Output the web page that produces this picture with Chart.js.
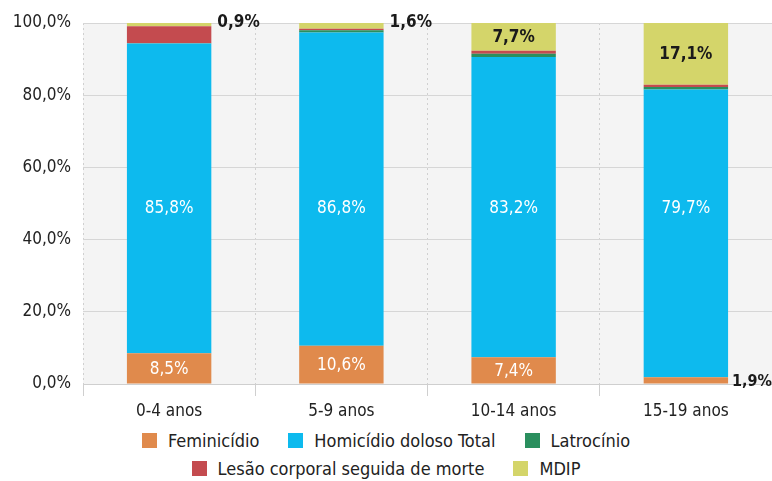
<!DOCTYPE html>
<html lang="pt">
<head>
<meta charset="UTF-8" />
<title>Vítimas por faixa etária</title>
<script src="https://cdn.jsdelivr.net/npm/chart.js@4"></script>
<style>
  html, body { margin: 0; padding: 0; background: #fff; }
  body { width: 772px; height: 481px; overflow: hidden;
         font-family: 'Liberation Sans Narrow', 'DejaVu Sans Condensed', 'Roboto', sans-serif; }
  #wrap { position: relative; width: 772px; height: 420px; }
  #legend { width: 772px; color: #222; font-size: 18px; padding-top: 6px; }
  .row { display: flex; justify-content: center; gap: 29px; height: 28px; align-items: center; }
  .item { display: flex; align-items: center; }
  .box { width: 15px; height: 15px; margin-right: 11px; }
</style>
</head>
<body>
<div id="wrap"><canvas id="myChart" width="772" height="420"></canvas></div>
<div id="legend"></div>

<script>
  // faixas etárias
  var faixas = ['0-4 anos', '5-9 anos', '10-14 anos', '15-19 anos'];

  // percentuais por tipo de crime (ordem de empilhamento, de baixo para cima)
  var feminicidio = [8.5, 10.6, 7.4, 1.9];
  var homicidio   = [85.8, 86.8, 83.2, 79.7];
  var latrocinio  = [0.1, 0.6, 0.9, 0.7];
  var lesao       = [4.7, 0.4, 0.8, 0.6];
  var mdip        = [0.9, 1.6, 7.7, 17.1];

  var yTicks = [0, 20, 40, 60, 80, 100];

  var fonte = "'Liberation Sans Narrow', 'DejaVu Sans Condensed', 'Roboto', sans-serif";
  function fmt(v) { return v.toFixed(1).replace('.', ',') + '%'; }

  // fundo cinza da área do gráfico
  const fundo = {
    id: 'fundo',
    beforeDraw(chart) {
      const a = chart.chartArea, ctx = chart.ctx;
      ctx.save();
      ctx.fillStyle = '#f4f4f4';
      ctx.fillRect(a.left, a.top, a.right - a.left, a.bottom - a.top);
      ctx.restore();
    }
  };

  // rótulos de valor
  const rotulos = {
    id: 'rotulos',
    afterDatasetsDraw(chart) {
      const ctx = chart.ctx;
      const y = chart.scales.y;
      ctx.save();
      ctx.textBaseline = 'middle';

      // Feminicídio
      chart.getDatasetMeta(0).data.forEach(function (bar, i) {
        const v = feminicidio[i];
        if (v > 3) {
          ctx.font = '17px ' + fonte;
          ctx.fillStyle = '#ffffff';
          ctx.textAlign = 'center';
          ctx.fillText(fmt(v), bar.x, (bar.y + bar.base) / 2 + 1);
        } else {
          ctx.font = 'bold 16px ' + fonte;
          ctx.fillStyle = '#1a1a1a';
          ctx.textAlign = 'left';
          ctx.fillText(fmt(v), bar.x + bar.width / 2 + 4, bar.base - 2);
        }
      });

      // Homicídio: todos na mesma altura
      chart.getDatasetMeta(1).data.forEach(function (bar, i) {
        ctx.font = '17px ' + fonte;
        ctx.fillStyle = '#ffffff';
        ctx.textAlign = 'center';
        ctx.fillText(fmt(homicidio[i]), bar.x, y.getPixelForValue(48.5));
      });

      // MDIP
      chart.getDatasetMeta(4).data.forEach(function (bar, i) {
        const v = mdip[i];
        ctx.font = 'bold 17px ' + fonte;
        ctx.fillStyle = '#1a1a1a';
        if (v > 5) {
          ctx.textAlign = 'center';
          ctx.fillText(fmt(v), bar.x, (bar.y + bar.base) / 2 + 1);
        } else {
          ctx.textAlign = 'left';
          ctx.fillText(fmt(v), bar.x + bar.width / 2 + 6, bar.y);
        }
      });
      ctx.restore();
    }
  };

  const series = [
    { label: 'Feminicídio', data: feminicidio, backgroundColor: '#e08a4c' },
    { label: 'Homicídio doloso Total', data: homicidio, backgroundColor: '#0dbaee' },
    { label: 'Latrocínio', data: latrocinio, backgroundColor: '#2a8f5e' },
    { label: 'Lesão corporal seguida de morte', data: lesao, backgroundColor: '#c44b4f' },
    { label: 'MDIP', data: mdip, backgroundColor: '#d4d56a' }
  ];

  const ctx = document.getElementById('myChart').getContext('2d');
  const myChart = new Chart(ctx, {
    type: 'bar',
    data: {
      labels: faixas,
      datasets: series.map(function (s) {
        return Object.assign({ barPercentage: 0.49, categoryPercentage: 1, borderWidth: 0 }, s);
      })
    },
    options: {
      responsive: false,
      animation: false,
      layout: { padding: { top: 23, right: 0, left: 0, bottom: 0 } },
      plugins: { legend: { display: false }, tooltip: { enabled: false } },
      scales: {
        x: {
          stacked: true,
          offset: true,
          border: { display: true, color: '#cfcfcf', width: 1, dash: [2, 3] },
          grid: {
            offset: true,
            color: '#d0d0d0',
            tickBorderDash: [],
            tickColor: '#cfcfcf',
            tickLength: 12,
            drawTicks: true
          },
          ticks: { color: '#222', font: { family: fonte, size: 17 }, padding: 5 },
          afterFit: function (s) { s.height = 36; }
        },
        y: {
          stacked: true,
          min: 0,
          max: 100,
          border: { display: false },
          grid: { color: '#d6d6d6', drawTicks: false },
          afterBuildTicks: function (s) { s.ticks = yTicks.map(function (v) { return { value: v }; }); },
          ticks: {
            color: '#222',
            font: { family: fonte, size: 17 },
            padding: 12,
            callback: function (v) { return fmt(v); }
          },
          afterFit: function (s) { s.width = 83; }
        }
      }
    },
    plugins: [fundo, rotulos]
  });

  // legenda em duas linhas
  var linhas = [[0, 1, 2], [3, 4]];
  var leg = document.getElementById('legend');
  linhas.forEach(function (l) {
    var row = document.createElement('div');
    row.className = 'row';
    l.forEach(function (k) {
      var it = document.createElement('div');
      it.className = 'item';
      var b = document.createElement('span');
      b.className = 'box';
      b.style.background = series[k].backgroundColor;
      it.appendChild(b);
      it.appendChild(document.createTextNode(series[k].label));
      row.appendChild(it);
    });
    leg.appendChild(row);
  });
</script>
</body>
</html>
